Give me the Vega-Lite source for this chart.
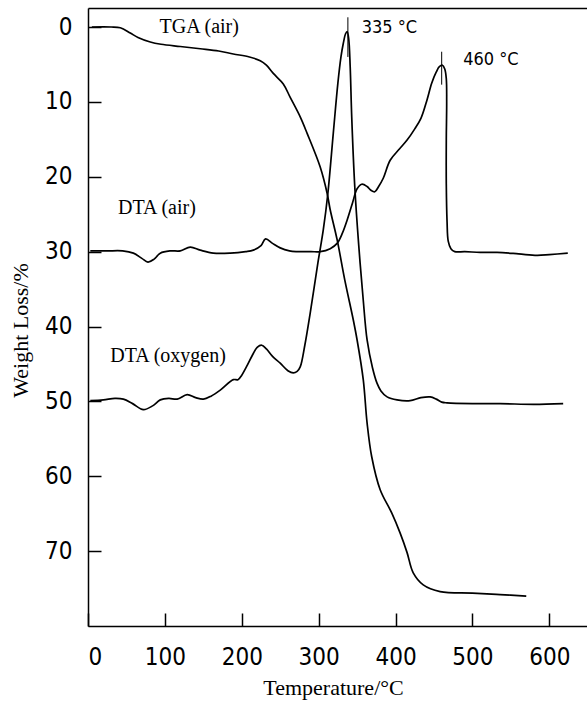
{
  "$schema": "https://vega.github.io/schema/vega-lite/v6.json",
  "width": 499,
  "height": 618,
  "autosize": "none",
  "padding": {"left": 88, "top": 8, "right": 0, "bottom": 76},
  "background": "white",
  "config": {
    "view": {"stroke": null},
    "axis": {
      "grid": false,
      "domainColor": "black",
      "domainWidth": 1.5,
      "tickColor": "black",
      "tickWidth": 1.5,
      "tickSize": -13,
      "labelColor": "black",
      "labelFont": "Liberation Sans Narrow, DejaVu Sans Condensed, sans-serif",
      "labelFontSize": 24,
      "labelFontWeight": 300,
      "titleColor": "black",
      "titleFont": "Liberation Serif, DejaVu Serif, serif",
      "titleFontWeight": "normal",
      "titleFontSize": 22
    }
  },
  "datasets": {
    "curves": [
      {"curve": "TGA (air)", "seq": 1, "T": 5, "Y": 0.0},
      {"curve": "TGA (air)", "seq": 2, "T": 30, "Y": 0.0},
      {"curve": "TGA (air)", "seq": 3, "T": 42, "Y": 0.1},
      {"curve": "TGA (air)", "seq": 4, "T": 55, "Y": 0.8},
      {"curve": "TGA (air)", "seq": 5, "T": 65, "Y": 1.4},
      {"curve": "TGA (air)", "seq": 6, "T": 81, "Y": 2.0},
      {"curve": "TGA (air)", "seq": 7, "T": 95, "Y": 2.3},
      {"curve": "TGA (air)", "seq": 8, "T": 120, "Y": 2.6},
      {"curve": "TGA (air)", "seq": 9, "T": 146, "Y": 2.9},
      {"curve": "TGA (air)", "seq": 10, "T": 170, "Y": 3.2},
      {"curve": "TGA (air)", "seq": 11, "T": 189, "Y": 3.6},
      {"curve": "TGA (air)", "seq": 12, "T": 210, "Y": 4.0},
      {"curve": "TGA (air)", "seq": 13, "T": 224, "Y": 4.5},
      {"curve": "TGA (air)", "seq": 14, "T": 232, "Y": 5.1},
      {"curve": "TGA (air)", "seq": 15, "T": 241, "Y": 6.2},
      {"curve": "TGA (air)", "seq": 16, "T": 254, "Y": 7.6},
      {"curve": "TGA (air)", "seq": 17, "T": 263, "Y": 9.4},
      {"curve": "TGA (air)", "seq": 18, "T": 276, "Y": 12.0},
      {"curve": "TGA (air)", "seq": 19, "T": 285, "Y": 14.2},
      {"curve": "TGA (air)", "seq": 20, "T": 302, "Y": 18.7},
      {"curve": "TGA (air)", "seq": 21, "T": 311, "Y": 22.2},
      {"curve": "TGA (air)", "seq": 22, "T": 315, "Y": 24.4},
      {"curve": "TGA (air)", "seq": 23, "T": 324, "Y": 28.4},
      {"curve": "TGA (air)", "seq": 24, "T": 334, "Y": 33.8},
      {"curve": "TGA (air)", "seq": 25, "T": 345, "Y": 39.1},
      {"curve": "TGA (air)", "seq": 26, "T": 350, "Y": 41.8},
      {"curve": "TGA (air)", "seq": 27, "T": 358, "Y": 47.1},
      {"curve": "TGA (air)", "seq": 28, "T": 363, "Y": 52.9},
      {"curve": "TGA (air)", "seq": 29, "T": 369, "Y": 57.4},
      {"curve": "TGA (air)", "seq": 30, "T": 380, "Y": 61.8},
      {"curve": "TGA (air)", "seq": 31, "T": 395, "Y": 64.9},
      {"curve": "TGA (air)", "seq": 32, "T": 406, "Y": 67.6},
      {"curve": "TGA (air)", "seq": 33, "T": 415, "Y": 70.2},
      {"curve": "TGA (air)", "seq": 34, "T": 423, "Y": 72.9},
      {"curve": "TGA (air)", "seq": 35, "T": 436, "Y": 74.5},
      {"curve": "TGA (air)", "seq": 36, "T": 458, "Y": 75.4},
      {"curve": "TGA (air)", "seq": 37, "T": 500, "Y": 75.6},
      {"curve": "TGA (air)", "seq": 38, "T": 536, "Y": 75.8},
      {"curve": "TGA (air)", "seq": 39, "T": 570, "Y": 76.0},

      {"curve": "DTA (air)", "seq": 1, "T": 3, "Y": 29.9},
      {"curve": "DTA (air)", "seq": 2, "T": 25, "Y": 29.9},
      {"curve": "DTA (air)", "seq": 3, "T": 45, "Y": 29.9},
      {"curve": "DTA (air)", "seq": 4, "T": 59, "Y": 30.2},
      {"curve": "DTA (air)", "seq": 5, "T": 70, "Y": 30.9},
      {"curve": "DTA (air)", "seq": 6, "T": 78, "Y": 31.4},
      {"curve": "DTA (air)", "seq": 7, "T": 86, "Y": 31.0},
      {"curve": "DTA (air)", "seq": 8, "T": 94, "Y": 30.2},
      {"curve": "DTA (air)", "seq": 9, "T": 107, "Y": 29.9},
      {"curve": "DTA (air)", "seq": 10, "T": 120, "Y": 29.9},
      {"curve": "DTA (air)", "seq": 11, "T": 133, "Y": 29.4},
      {"curve": "DTA (air)", "seq": 12, "T": 146, "Y": 29.8},
      {"curve": "DTA (air)", "seq": 13, "T": 163, "Y": 30.2},
      {"curve": "DTA (air)", "seq": 14, "T": 185, "Y": 30.2},
      {"curve": "DTA (air)", "seq": 15, "T": 205, "Y": 30.0},
      {"curve": "DTA (air)", "seq": 16, "T": 215, "Y": 29.8},
      {"curve": "DTA (air)", "seq": 17, "T": 225, "Y": 29.2},
      {"curve": "DTA (air)", "seq": 18, "T": 231, "Y": 28.3},
      {"curve": "DTA (air)", "seq": 19, "T": 240, "Y": 28.9},
      {"curve": "DTA (air)", "seq": 20, "T": 250, "Y": 29.5},
      {"curve": "DTA (air)", "seq": 21, "T": 262, "Y": 29.9},
      {"curve": "DTA (air)", "seq": 22, "T": 271, "Y": 30.0},
      {"curve": "DTA (air)", "seq": 23, "T": 290, "Y": 30.0},
      {"curve": "DTA (air)", "seq": 24, "T": 302, "Y": 30.0},
      {"curve": "DTA (air)", "seq": 25, "T": 315, "Y": 29.6},
      {"curve": "DTA (air)", "seq": 26, "T": 324, "Y": 28.9},
      {"curve": "DTA (air)", "seq": 27, "T": 331, "Y": 27.5},
      {"curve": "DTA (air)", "seq": 28, "T": 337, "Y": 25.8},
      {"curve": "DTA (air)", "seq": 29, "T": 344, "Y": 23.5},
      {"curve": "DTA (air)", "seq": 30, "T": 350, "Y": 21.6},
      {"curve": "DTA (air)", "seq": 31, "T": 356, "Y": 21.0},
      {"curve": "DTA (air)", "seq": 32, "T": 363, "Y": 21.3},
      {"curve": "DTA (air)", "seq": 33, "T": 368, "Y": 21.8},
      {"curve": "DTA (air)", "seq": 34, "T": 373, "Y": 22.0},
      {"curve": "DTA (air)", "seq": 35, "T": 378, "Y": 21.3},
      {"curve": "DTA (air)", "seq": 36, "T": 384, "Y": 20.2},
      {"curve": "DTA (air)", "seq": 37, "T": 393, "Y": 17.8},
      {"curve": "DTA (air)", "seq": 38, "T": 405, "Y": 16.3},
      {"curve": "DTA (air)", "seq": 39, "T": 415, "Y": 15.1},
      {"curve": "DTA (air)", "seq": 40, "T": 425, "Y": 13.6},
      {"curve": "DTA (air)", "seq": 41, "T": 433, "Y": 12.2},
      {"curve": "DTA (air)", "seq": 42, "T": 441, "Y": 9.7},
      {"curve": "DTA (air)", "seq": 43, "T": 447, "Y": 7.5},
      {"curve": "DTA (air)", "seq": 44, "T": 453, "Y": 6.0},
      {"curve": "DTA (air)", "seq": 45, "T": 457, "Y": 5.3},
      {"curve": "DTA (air)", "seq": 46, "T": 461, "Y": 5.1},
      {"curve": "DTA (air)", "seq": 47, "T": 464, "Y": 5.6},
      {"curve": "DTA (air)", "seq": 48, "T": 466, "Y": 6.9},
      {"curve": "DTA (air)", "seq": 49, "T": 466.5, "Y": 10.0},
      {"curve": "DTA (air)", "seq": 50, "T": 466, "Y": 15.0},
      {"curve": "DTA (air)", "seq": 51, "T": 466, "Y": 21.0},
      {"curve": "DTA (air)", "seq": 52, "T": 467, "Y": 26.0},
      {"curve": "DTA (air)", "seq": 53, "T": 468.5, "Y": 28.6},
      {"curve": "DTA (air)", "seq": 54, "T": 472, "Y": 29.6},
      {"curve": "DTA (air)", "seq": 55, "T": 477, "Y": 30.0},
      {"curve": "DTA (air)", "seq": 56, "T": 490, "Y": 30.0},
      {"curve": "DTA (air)", "seq": 57, "T": 510, "Y": 30.1},
      {"curve": "DTA (air)", "seq": 58, "T": 532, "Y": 30.1},
      {"curve": "DTA (air)", "seq": 59, "T": 560, "Y": 30.3},
      {"curve": "DTA (air)", "seq": 60, "T": 584, "Y": 30.5},
      {"curve": "DTA (air)", "seq": 61, "T": 600, "Y": 30.4},
      {"curve": "DTA (air)", "seq": 62, "T": 624, "Y": 30.2},

      {"curve": "DTA (oxygen)", "seq": 1, "T": 3, "Y": 49.9},
      {"curve": "DTA (oxygen)", "seq": 2, "T": 20, "Y": 49.8},
      {"curve": "DTA (oxygen)", "seq": 3, "T": 35, "Y": 49.6},
      {"curve": "DTA (oxygen)", "seq": 4, "T": 46, "Y": 49.7},
      {"curve": "DTA (oxygen)", "seq": 5, "T": 58, "Y": 50.3},
      {"curve": "DTA (oxygen)", "seq": 6, "T": 72, "Y": 51.1},
      {"curve": "DTA (oxygen)", "seq": 7, "T": 84, "Y": 50.6},
      {"curve": "DTA (oxygen)", "seq": 8, "T": 94, "Y": 49.8},
      {"curve": "DTA (oxygen)", "seq": 9, "T": 105, "Y": 49.6},
      {"curve": "DTA (oxygen)", "seq": 10, "T": 116, "Y": 49.7},
      {"curve": "DTA (oxygen)", "seq": 11, "T": 129, "Y": 49.1},
      {"curve": "DTA (oxygen)", "seq": 12, "T": 140, "Y": 49.5},
      {"curve": "DTA (oxygen)", "seq": 13, "T": 150, "Y": 49.7},
      {"curve": "DTA (oxygen)", "seq": 14, "T": 160, "Y": 49.3},
      {"curve": "DTA (oxygen)", "seq": 15, "T": 172, "Y": 48.5},
      {"curve": "DTA (oxygen)", "seq": 16, "T": 189, "Y": 47.1},
      {"curve": "DTA (oxygen)", "seq": 17, "T": 195, "Y": 47.1},
      {"curve": "DTA (oxygen)", "seq": 18, "T": 200, "Y": 46.5},
      {"curve": "DTA (oxygen)", "seq": 19, "T": 206, "Y": 45.4},
      {"curve": "DTA (oxygen)", "seq": 20, "T": 215, "Y": 43.6},
      {"curve": "DTA (oxygen)", "seq": 21, "T": 220, "Y": 42.8},
      {"curve": "DTA (oxygen)", "seq": 22, "T": 226, "Y": 42.5},
      {"curve": "DTA (oxygen)", "seq": 23, "T": 232, "Y": 43.0},
      {"curve": "DTA (oxygen)", "seq": 24, "T": 240, "Y": 44.0},
      {"curve": "DTA (oxygen)", "seq": 25, "T": 250, "Y": 44.9},
      {"curve": "DTA (oxygen)", "seq": 26, "T": 260, "Y": 45.9},
      {"curve": "DTA (oxygen)", "seq": 27, "T": 267, "Y": 46.2},
      {"curve": "DTA (oxygen)", "seq": 28, "T": 272, "Y": 46.0},
      {"curve": "DTA (oxygen)", "seq": 29, "T": 276, "Y": 45.4},
      {"curve": "DTA (oxygen)", "seq": 30, "T": 282, "Y": 42.5},
      {"curve": "DTA (oxygen)", "seq": 31, "T": 289, "Y": 38.2},
      {"curve": "DTA (oxygen)", "seq": 32, "T": 299, "Y": 31.5},
      {"curve": "DTA (oxygen)", "seq": 33, "T": 306, "Y": 27.1},
      {"curve": "DTA (oxygen)", "seq": 34, "T": 312, "Y": 22.2},
      {"curve": "DTA (oxygen)", "seq": 35, "T": 319, "Y": 14.2},
      {"curve": "DTA (oxygen)", "seq": 36, "T": 325, "Y": 7.5},
      {"curve": "DTA (oxygen)", "seq": 37, "T": 329, "Y": 4.0},
      {"curve": "DTA (oxygen)", "seq": 38, "T": 332, "Y": 2.2},
      {"curve": "DTA (oxygen)", "seq": 39, "T": 335, "Y": 0.9},
      {"curve": "DTA (oxygen)", "seq": 40, "T": 337, "Y": 0.6},
      {"curve": "DTA (oxygen)", "seq": 41, "T": 339, "Y": 1.5},
      {"curve": "DTA (oxygen)", "seq": 42, "T": 341, "Y": 5.3},
      {"curve": "DTA (oxygen)", "seq": 43, "T": 343, "Y": 12.0},
      {"curve": "DTA (oxygen)", "seq": 44, "T": 347, "Y": 21.4},
      {"curve": "DTA (oxygen)", "seq": 45, "T": 352, "Y": 29.0},
      {"curve": "DTA (oxygen)", "seq": 46, "T": 358, "Y": 36.5},
      {"curve": "DTA (oxygen)", "seq": 47, "T": 363, "Y": 41.8},
      {"curve": "DTA (oxygen)", "seq": 48, "T": 370, "Y": 45.5},
      {"curve": "DTA (oxygen)", "seq": 49, "T": 376, "Y": 47.6},
      {"curve": "DTA (oxygen)", "seq": 50, "T": 381, "Y": 48.6},
      {"curve": "DTA (oxygen)", "seq": 51, "T": 389, "Y": 49.4},
      {"curve": "DTA (oxygen)", "seq": 52, "T": 402, "Y": 49.8},
      {"curve": "DTA (oxygen)", "seq": 53, "T": 419, "Y": 49.9},
      {"curve": "DTA (oxygen)", "seq": 54, "T": 433, "Y": 49.5},
      {"curve": "DTA (oxygen)", "seq": 55, "T": 445, "Y": 49.4},
      {"curve": "DTA (oxygen)", "seq": 56, "T": 453, "Y": 49.7},
      {"curve": "DTA (oxygen)", "seq": 57, "T": 460, "Y": 50.1},
      {"curve": "DTA (oxygen)", "seq": 58, "T": 467, "Y": 50.2},
      {"curve": "DTA (oxygen)", "seq": 59, "T": 500, "Y": 50.3},
      {"curve": "DTA (oxygen)", "seq": 60, "T": 536, "Y": 50.3},
      {"curve": "DTA (oxygen)", "seq": 61, "T": 580, "Y": 50.4},
      {"curve": "DTA (oxygen)", "seq": 62, "T": 618, "Y": 50.3}
    ],
    "curveLabels": [
      {"text": "TGA (air)", "T": 93, "Y": 0.0},
      {"text": "DTA (air)", "T": 39, "Y": 24.2},
      {"text": "DTA (oxygen)", "T": 29, "Y": 44.0}
    ],
    "peakLabels": [
      {"text": "335 °C", "T": 356, "Y": 0.1},
      {"text": "460 °C", "T": 488, "Y": 4.4}
    ],
    "peakMarks": [
      {"T": 338, "Y1": -1.3, "Y2": 4.0},
      {"T": 460, "Y1": 3.3, "Y2": 7.7}
    ]
  },
  "resolve": {"axis": {"x": "independent"}},
  "layer": [
    {
      "data": {"name": "curves"},
      "mark": {"type": "line", "color": "black", "strokeWidth": 1.7, "interpolate": "catmull-rom"},
      "encoding": {
        "x": {
          "field": "T", "type": "quantitative",
          "scale": {"domain": [0, 649], "nice": false, "zero": false},
          "axis": {"orient": "bottom", "values": [0, 100, 200, 300, 400, 500, 600], "title": "Temperature/°C", "labelPadding": 32, "labelBaseline": "top", "titleX": 245, "titleY": 61, "titleBaseline": "middle", "titleAnchor": null}
        },
        "y": {
          "field": "Y", "type": "quantitative",
          "scale": {"domain": [-2.54, 80], "reverse": true, "nice": false, "zero": false},
          "axis": {"values": [0, 10, 20, 30, 40, 50, 60, 70], "title": "Weight Loss/%", "labelPadding": 29, "titleX": -68, "titleY": 322, "titleAngle": -90, "titleBaseline": "middle", "titleAlign": "center"}
        },
        "detail": {"field": "curve"},
        "order": {"field": "seq", "type": "quantitative"}
      }
    },
    {
      "data": {"name": "peakMarks"},
      "mark": {"type": "rule", "color": "black", "strokeWidth": 1},
      "encoding": {
        "x": {"field": "T", "type": "quantitative", "axis": {"orient": "top", "title": null, "labels": false, "ticks": false, "domainWidth": 1.5}},
        "y": {"field": "Y1", "type": "quantitative"},
        "y2": {"field": "Y2"}
      }
    },
    {
      "data": {"name": "curveLabels"},
      "mark": {"type": "text", "align": "left", "baseline": "middle", "font": "Liberation Serif, DejaVu Serif, serif", "fontSize": 20, "color": "black"},
      "encoding": {
        "x": {"field": "T", "type": "quantitative", "axis": null},
        "y": {"field": "Y", "type": "quantitative"},
        "text": {"field": "text"}
      }
    },
    {
      "data": {"name": "peakLabels"},
      "mark": {"type": "text", "align": "left", "baseline": "middle", "font": "Liberation Sans Narrow, DejaVu Sans Condensed, sans-serif", "fontSize": 18, "fontWeight": 300, "color": "black"},
      "encoding": {
        "x": {"field": "T", "type": "quantitative", "axis": null},
        "y": {"field": "Y", "type": "quantitative"},
        "text": {"field": "text"}
      }
    }
  ]
}
